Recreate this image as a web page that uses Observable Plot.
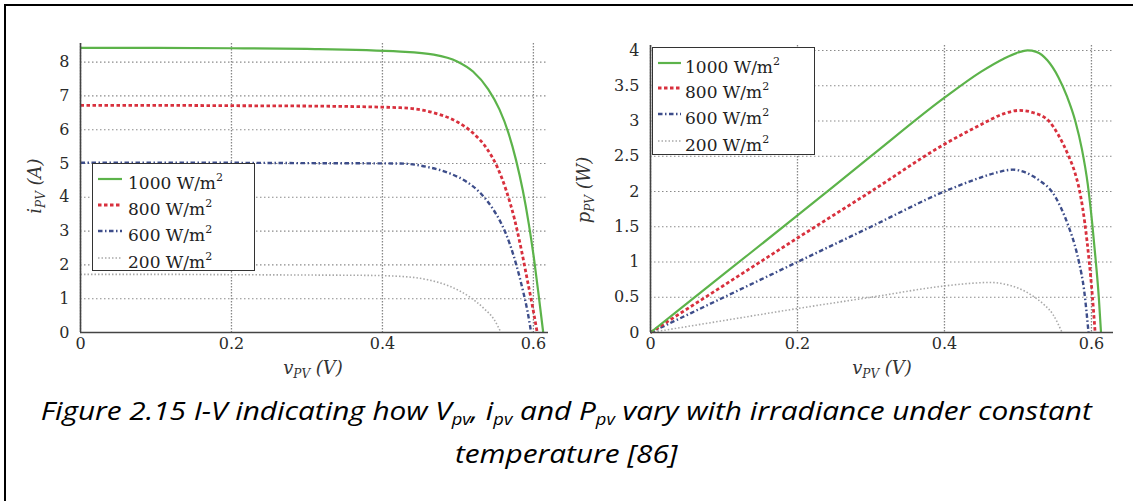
<!DOCTYPE html>
<html>
<head>
<meta charset="utf-8">
<script src="https://cdn.jsdelivr.net/npm/d3@7"></script>
<script src="https://cdn.jsdelivr.net/npm/@observablehq/plot@0.6"></script>
<style>
  body { margin: 0; background: #fff; }
  #wrap { position: relative; width: 1133px; height: 501px; overflow: hidden; background: #fff; }
  .frame { position: absolute; left: 4px; top: 4px; width: 1140px; height: 510px;
           border-top: 2px solid #000; border-left: 2px solid #000; box-sizing: border-box; }
  .panel { position: absolute; top: 0; }
  .legend { position: absolute; background: #fff; border: 1.5px solid #333; box-sizing: border-box;
            font-family: "DejaVu Serif", serif; font-size: 17px; color: #222; }
  .legend .row { position: absolute; left: 0; white-space: nowrap; line-height: 20px; }
  .legend sup { font-size: 11px; position: relative; top: -1px; }
  .axlabel { position: absolute; font-family: "DejaVu Serif", serif; font-style: italic; font-size: 18px;
             color: #333; white-space: nowrap; transform: translate(-50%, -50%); }
  .axlabel sub { font-size: 12px; }
  .ylab { transform: translate(-50%, -50%) rotate(-90deg); }
  #caption { position: absolute; left: 0; top: 389px; width: 1133px; text-align: center;
             font-family: "Open Sans", "Lato", sans-serif; font-style: italic; font-weight: 400; font-size: 26px;
             line-height: 43px; color: #000; }
  #caption span.line { display: inline-block; white-space: nowrap; transform-origin: center; }
  #caption sub { font-size: 16px; vertical-align: -5px; line-height: 0; }
</style>
</head>
<body>
<div id="wrap">
  <div class="frame"></div>
  <div id="left" class="panel" style="left:0px"></div>
  <div id="right" class="panel" style="left:570px"></div>
  <div id="caption">
    <span class="line" id="cap1">Figure 2.15 I-V indicating how V<sub>pv</sub>, i<sub>pv</sub> and P<sub>pv</sub> vary with irradiance under constant</span><br>
    <span class="line" id="cap2">temperature [86]</span>
  </div>
</div>
<script>
// ---------- data ----------
const irradiance = ["1000", "800", "600", "200"];

// I-V curves (left panel): voltage (V) and current (A)
const ivV1000 = [0, 0.1, 0.2, 0.3, 0.424, 0.468, 0.499, 0.52, 0.54, 0.555, 0.567, 0.577, 0.586, 0.594, 0.601, 0.607, 0.613];
const ivI1000 = [8.42, 8.42, 8.41, 8.39, 8.31, 8.22, 8.02, 7.72, 7.2, 6.6, 5.9, 5.1, 4.2, 3.2, 2.15, 1.1, 0];
const ivV800 = [0, 0.1, 0.2, 0.3, 0.424, 0.468, 0.5, 0.52, 0.538, 0.552, 0.564, 0.575, 0.584, 0.592, 0.599, 0.605];
const ivI800 = [6.72, 6.72, 6.71, 6.7, 6.65, 6.5, 6.22, 5.9, 5.45, 4.9, 4.2, 3.35, 2.45, 1.55, 0.75, 0];
const ivV600 = [0, 0.1, 0.2, 0.3, 0.424, 0.459, 0.49, 0.51, 0.53, 0.545, 0.558, 0.569, 0.578, 0.586, 0.592, 0.597];
const ivI600 = [5.02, 5.02, 5.02, 5.01, 5.0, 4.9, 4.7, 4.48, 4.12, 3.7, 3.2, 2.6, 1.95, 1.25, 0.65, 0];
const ivV200 = [0, 0.1, 0.2, 0.3, 0.38, 0.424, 0.46, 0.49, 0.515, 0.535, 0.548, 0.557];
const ivI200 = [1.72, 1.72, 1.71, 1.7, 1.69, 1.66, 1.56, 1.36, 1.06, 0.7, 0.38, 0];

// P-V curves (right panel): voltage (V) and power (W)
const pvV1000 = [0, 0.1, 0.2, 0.3, 0.4, 0.45, 0.48, 0.5, 0.513, 0.525, 0.54, 0.555, 0.567, 0.578, 0.587, 0.595, 0.601, 0.606, 0.61, 0.613];
const pvP1000 = [0, 0.83, 1.66, 2.5, 3.33, 3.7, 3.88, 3.97, 4.0, 3.98, 3.86, 3.62, 3.34, 3.0, 2.6, 2.1, 1.55, 1.0, 0.5, 0];
const pvV800 = [0, 0.1, 0.2, 0.3, 0.4, 0.45, 0.48, 0.502, 0.52, 0.542, 0.555, 0.569, 0.578, 0.585, 0.591, 0.597, 0.601, 0.605];
const pvP800 = [0, 0.67, 1.34, 2.0, 2.67, 2.95, 3.1, 3.15, 3.12, 3.0, 2.8, 2.5, 2.25, 1.95, 1.55, 1.0, 0.55, 0];
const pvV600 = [0, 0.1, 0.2, 0.3, 0.4, 0.45, 0.475, 0.493, 0.51, 0.53, 0.546, 0.558, 0.569, 0.577, 0.583, 0.59, 0.596];
const pvP600 = [0, 0.5, 1.0, 1.5, 2.0, 2.2, 2.28, 2.31, 2.27, 2.15, 2.0, 1.78, 1.5, 1.25, 1.0, 0.6, 0];
const pvV200 = [0, 0.1, 0.2, 0.3, 0.4, 0.44, 0.462, 0.48, 0.5, 0.52, 0.535, 0.548, 0.56];
const pvP200 = [0, 0.17, 0.34, 0.5, 0.66, 0.7, 0.71, 0.69, 0.63, 0.52, 0.4, 0.25, 0];

// axis ticks
const xTicks = [0, 0.2, 0.4, 0.6];
const ivTicks = [0, 1, 2, 3, 4, 5, 6, 7, 8];
const pvTicks = [0, 0.5, 1, 1.5, 2, 2.5, 3, 3.5, 4];

// ---------- styles ----------
const styles = [
  { stroke: "#5cb34a", strokeWidth: 2.2, dash: null },
  { stroke: "#d8303d", strokeWidth: 2.8, dash: "3.5,2.5" },
  { stroke: "#3d4d8a", strokeWidth: 2.4, dash: "4.5,2.5,1.5,2.5" },
  { stroke: "#a9a9a9", strokeWidth: 1.6, dash: "1.5,2" }
];

function rows(vs, ys, s) { return vs.map((v, i) => ({ v, y: ys[i], s })); }
const ivSeries = [
  rows(ivV1000, ivI1000, irradiance[0]), rows(ivV800, ivI800, irradiance[1]),
  rows(ivV600, ivI600, irradiance[2]), rows(ivV200, ivI200, irradiance[3])
];
const pvSeries = [
  rows(pvV1000, pvP1000, irradiance[0]), rows(pvV800, pvP800, irradiance[1]),
  rows(pvV600, pvP600, irradiance[2]), rows(pvV200, pvP200, irradiance[3])
];

function lineMarks(series) {
  const order = [3, 2, 1, 0];
  return order.map(k => Plot.line(series[k], {
    x: "v", y: "y", curve: "monotone-x",
    stroke: styles[k].stroke, strokeWidth: styles[k].strokeWidth,
    strokeDasharray: styles[k].dash || undefined,
    strokeLinecap: "butt", strokeLinejoin: "round"
  }));
}

function panel(series, opts) {
  return Plot.plot({
    width: opts.width, height: 380,
    marginLeft: 80, marginTop: opts.top, marginBottom: 48, marginRight: opts.right,
    style: { fontFamily: "DejaVu Serif, serif", fontSize: "16px", color: "#2a2a2a", background: "transparent", overflow: "visible" },
    x: { domain: opts.xDomain },
    y: { domain: opts.yDomain },
    marks: [
      Plot.gridX({ ticks: xTicks, stroke: "#888", strokeOpacity: 1, strokeWidth: 1.3, strokeDasharray: "1.5,1.5" }),
      Plot.gridY({ ticks: opts.yTicks, stroke: "#8a8a8a", strokeOpacity: 1, strokeWidth: 1.1, strokeDasharray: "1.5,2.5" }),
      Plot.axisX({ ticks: xTicks, tickSize: 0, tickPadding: 5, tickFormat: d => String(d), label: null }),
      Plot.axisY({ ticks: opts.yTicks, tickSize: 0, tickPadding: 11, tickFormat: d => String(d), label: null }),
      ...lineMarks(series),
      Plot.ruleX([0], { stroke: "#444", strokeWidth: 1.6 }),
      Plot.ruleY([0], { stroke: "#444", strokeWidth: 1.6 })
    ]
  });
}

document.getElementById("left").appendChild(panel(ivSeries, {
  width: 570, top: 43, right: 22, xDomain: [0, 0.62], yDomain: [0, 8.55], yTicks: ivTicks
}));
document.getElementById("right").appendChild(panel(pvSeries, {
  width: 563, top: 45, right: 20, xDomain: [0, 0.63], yDomain: [0, 4.07], yTicks: pvTicks
}));

// ---------- legends ----------
function legend(left, top, rowYs, sampleX0, sampleX1, textX) {
  const wrap = document.getElementById("wrap");
  const box = document.createElement("div");
  box.className = "legend";
  Object.assign(box.style, { left: left + "px", top: top + "px", width: "163px", height: "108px" });
  const ns = "http://www.w3.org/2000/svg";
  const svg = document.createElementNS(ns, "svg");
  svg.setAttribute("width", 160); svg.setAttribute("height", 105);
  svg.style.position = "absolute"; svg.style.left = "0"; svg.style.top = "0";
  irradiance.forEach((lab, k) => {
    const ln = document.createElementNS(ns, "line");
    ln.setAttribute("x1", sampleX0); ln.setAttribute("x2", sampleX1);
    ln.setAttribute("y1", rowYs[k]); ln.setAttribute("y2", rowYs[k]);
    ln.setAttribute("stroke", styles[k].stroke);
    ln.setAttribute("stroke-width", styles[k].strokeWidth);
    if (styles[k].dash) ln.setAttribute("stroke-dasharray", styles[k].dash);
    svg.appendChild(ln);
    const row = document.createElement("div");
    row.className = "row";
    row.style.left = textX + "px";
    row.style.top = (rowYs[k] - 10) + "px";
    row.innerHTML = lab + " W/m<sup>2</sup>";
    box.appendChild(row);
  });
  box.appendChild(svg);
  wrap.appendChild(box);
}
legend(92, 163, [15, 41, 67, 94], 5, 29, 35);
legend(652, 47, [15, 40, 66, 93], 5, 28, 32);

// ---------- axis labels ----------
function label(html, x, y, cls) {
  const d = document.createElement("div");
  d.className = "axlabel " + (cls || "");
  d.style.left = x + "px"; d.style.top = y + "px";
  d.innerHTML = html;
  document.getElementById("wrap").appendChild(d);
}
label("i<sub>PV</sub> (A)", 36, 186, "ylab");
label("p<sub>PV</sub> (W)", 585, 190, "ylab");
label("v<sub>PV</sub> (V)", 313, 369);
label("v<sub>PV</sub> (V)", 882, 369);

// ---------- caption fit ----------
const cap1 = document.getElementById("cap1");
const w1 = cap1.getBoundingClientRect().width;
const sx = 1051 / w1;
cap1.style.transform = `scaleX(${sx})`;
document.getElementById("cap2").style.transform = `scaleX(${sx})`;
</script>
</body>
</html>
